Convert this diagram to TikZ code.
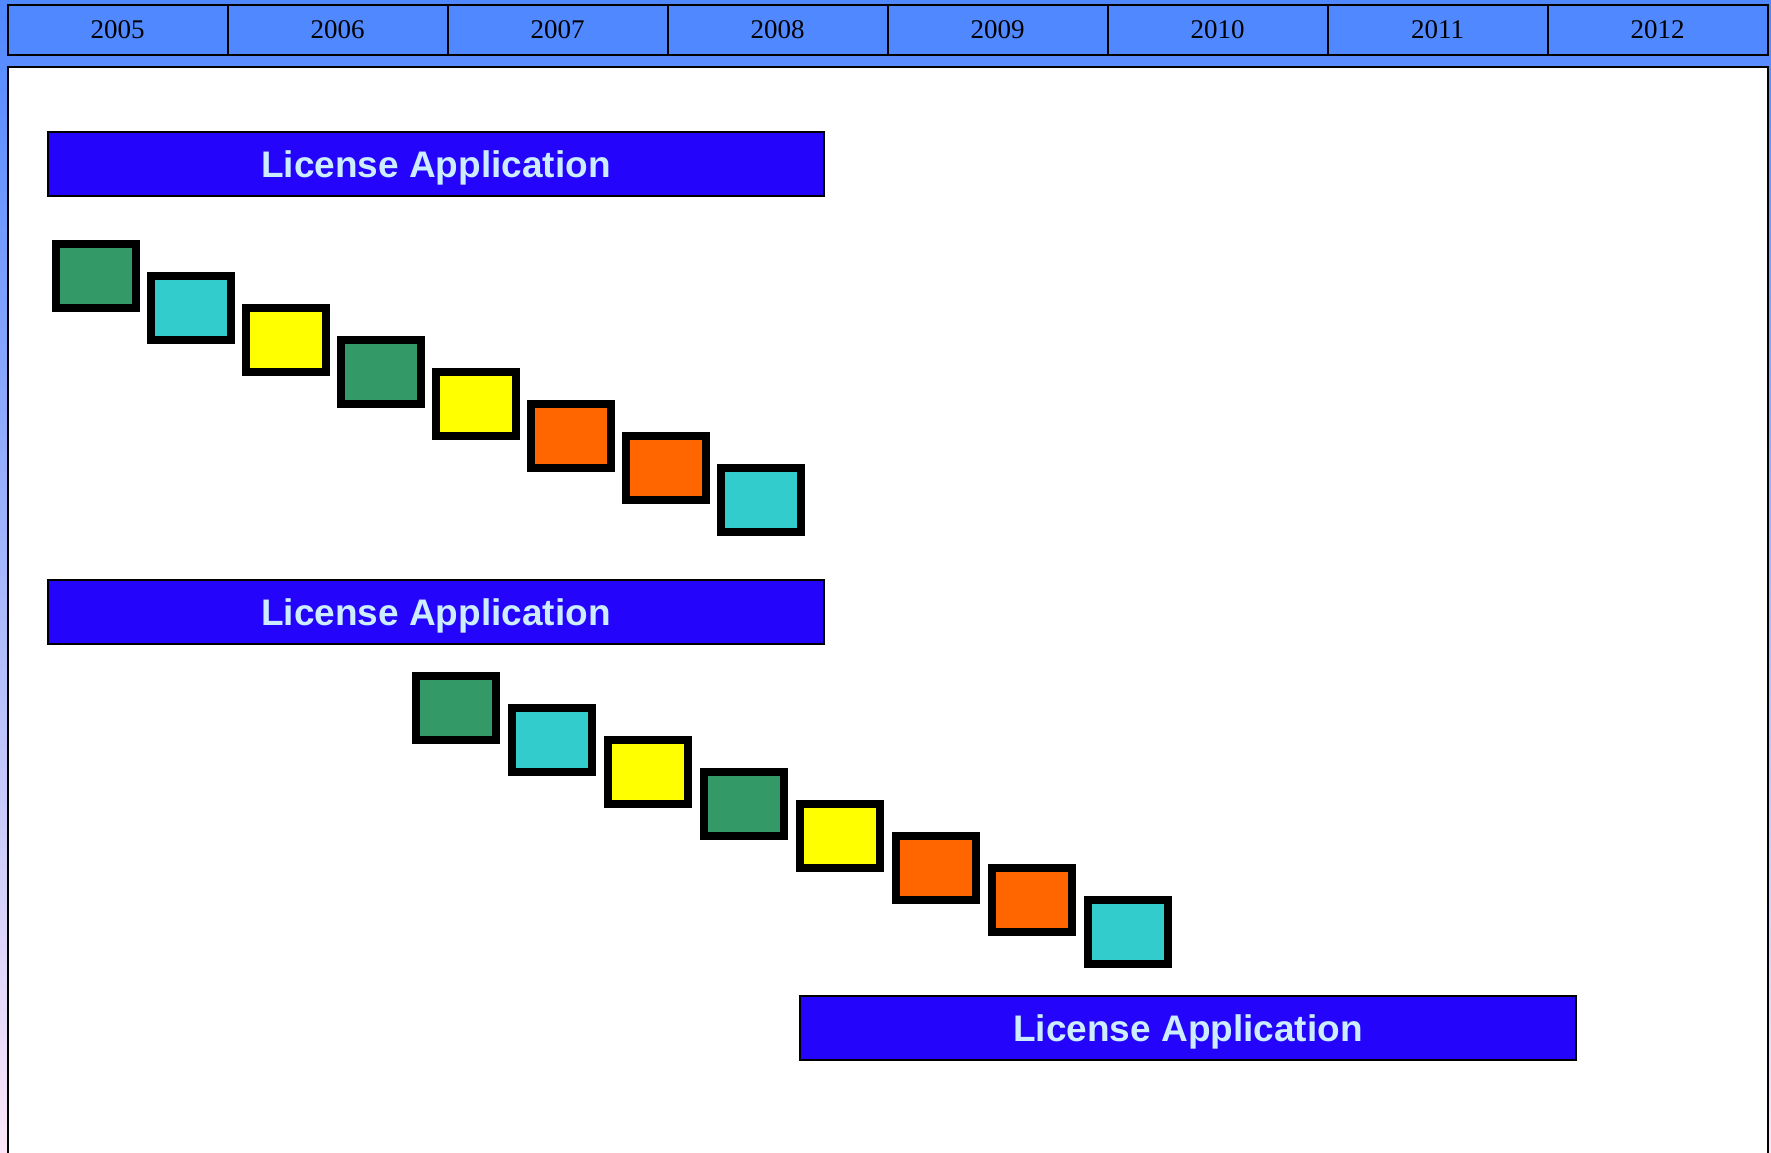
\documentclass[tikz,border=0pt]{standalone}
\usepackage{fontspec}
\setmainfont{Liberation Serif}
\newfontfamily\barfont{Liberation Sans}
\usepackage{tikz}
\usetikzlibrary{calc}
\usepackage{xcolor}
\definecolor{cellblue}{RGB}{80,136,255}
\definecolor{bgpink}{RGB}{252,230,248}
\definecolor{licblue}{RGB}{36,4,250}
\definecolor{lictext}{RGB}{204,236,255}
\definecolor{sgreen}{RGB}{51,153,102}
\definecolor{scyan}{RGB}{51,204,204}
\definecolor{syellow}{RGB}{255,255,0}
\definecolor{sorange}{RGB}{255,102,0}
\tikzstyle{year}=[draw,line width=2pt,fill=cellblue,minimum width=220pt,minimum height=50pt,inner sep=0,outer sep=0,font=\fontsize{27}{30}\selectfont]
\tikzstyle{lic}=[draw,line width=2pt,fill=licblue,text=lictext,minimum width=776pt,minimum height=64pt,inner sep=0,text depth=0pt,font=\barfont\bfseries\fontsize{37}{40}\selectfont]
\tikzstyle{task}=[draw,line width=8pt,minimum width=80pt,minimum height=64pt,inner sep=0,outer sep=0]

\begin{document}
\begin{tikzpicture}[x=1pt,y=-1pt]
 \useasboundingbox (0,0) rectangle (1771,1153);
 \shade[top color=cellblue,bottom color=bgpink] (0,0) rectangle (1771,1153);
 %
 \foreach \Y [count=\Z from 0] in {2005,...,2012}
 {\node[year] (y\Y) at (117.6+220*\Z,29.8) {\Y};}
 %
 \draw[line width=2pt,fill=white] (7.5,67) rectangle (1767.5,1175);
 %
 \node[lic] (lic1) at (436,164) {License Application};
 \node[lic] (lic2) at (436,612) {License Application};
 \node[lic] (lic3) at (1188,1027.7) {License Application};
 %
 \foreach \C [count=\Z from 0] in {sgreen,scyan,syellow,sgreen,syellow,sorange,sorange,scyan}
 {
 \node[task,fill=\C] (a\Z) at (96+95*\Z,276+32*\Z) {};
 \node[task,fill=\C] (b\Z) at (456+96*\Z,708+32*\Z) {};
 }
\end{tikzpicture}
\end{document}
